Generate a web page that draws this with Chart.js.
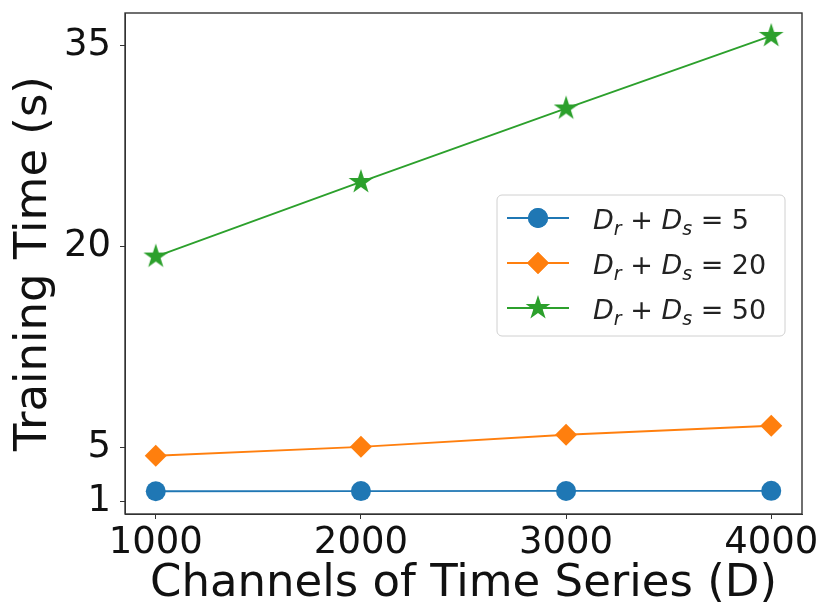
<!DOCTYPE html>
<html>
<head>
<meta charset="utf-8">
<script src="https://cdn.jsdelivr.net/npm/chart.js@4.4.0/dist/chart.umd.min.js"></script>
<style>
  html, body { margin: 0; padding: 0; background: #fff; }
  #wrap { width: 820px; height: 607px; }
</style>
</head>
<body>
<div id="wrap"><canvas id="chart" width="820" height="607"></canvas></div>
<script>
// Data
const channels = [1000, 2000, 3000, 4000]
const timeSum5 = [1.73, 1.74, 1.75, 1.76]
const timeSum20 = [4.38, 5.05, 5.95, 6.62]
const timeSum50 = [19.26, 24.83, 30.32, 35.74]
const sumLabels = ["5", "20", "50"]
const xTicks = [1000, 2000, 3000, 4000]
const yTicks = [1, 5, 20, 35]

const FONT = "'DejaVu Sans', sans-serif"
const BLUE = "#1f77b4"
const ORANGE = "#ff7f0e"
const GREEN = "#2ca02c"

// Filled five point star, used as an image point style
function makeStar(color, r) {
  const c = document.createElement("canvas")
  const s = Math.ceil(r * 2 + 2)
  c.width = s
  c.height = s
  const g = c.getContext("2d")
  g.beginPath()
  for (let i = 0; i < 10; i++) {
    const rad = i % 2 === 0 ? r : r * 0.382
    const a = -Math.PI / 2 + (i * Math.PI) / 5
    g.lineTo(s / 2 + rad * Math.cos(a), s / 2 + rad * Math.sin(a))
  }
  g.closePath()
  g.fillStyle = color
  g.fill()
  return c
}

const starImg = makeStar(GREEN, 13)

function toPoints(ys) {
  return channels.map((x, i) => ({ x: x, y: ys[i] }))
}

const datasets = [
  { values: timeSum5, color: BLUE, style: "circle", radius: 10 },
  { values: timeSum20, color: ORANGE, style: "rectRot", radius: 11 },
  { values: timeSum50, color: GREEN, style: starImg, radius: 13 },
].map((d, i) => ({
  label: "D_r + D_s = " + sumLabels[i],
  data: toPoints(d.values),
  borderColor: d.color,
  backgroundColor: d.color,
  borderWidth: 1.8,
  pointStyle: d.style,
  pointRadius: d.radius,
  pointHoverRadius: d.radius,
  pointBorderWidth: 0,
  pointBackgroundColor: d.color,
  tension: 0,
}))

// Frame around the plot area
const framePlugin = {
  id: "frame",
  afterDatasetsDraw(chart) {
    const { ctx, chartArea: a } = chart
    ctx.save()
    ctx.strokeStyle = "#333"
    ctx.lineWidth = 1.4
    ctx.strokeRect(a.left, a.top, a.right - a.left, a.bottom - a.top)
    ctx.restore()
  },
}

// Legend with subscripts, like matplotlib mathtext
function drawMathLabel(ctx, x, baseline, sum) {
  const big = "italic 27px " + FONT
  const sub = "italic 19px " + FONT
  const reg = "27px " + FONT
  const parts = [
    ["D", big, 0],
    ["r", sub, 6],
    [" + ", reg, 0],
    ["D", big, 0],
    ["s", sub, 6],
    [" = " + sum, reg, 0],
  ]
  let cx = x
  parts.forEach(([t, f, dy]) => {
    ctx.font = f
    ctx.fillText(t, cx, baseline + dy)
    cx += ctx.measureText(t).width
  })
}

const legendPlugin = {
  id: "mathLegend",
  afterDraw(chart) {
    const { ctx, chartArea: a } = chart
    const w = 288
    const h = 141
    const bx = a.right - 17 - w
    const by = a.top + 182
    ctx.save()
    ctx.beginPath()
    ctx.roundRect(bx, by, w, h, 5)
    ctx.fillStyle = "rgba(255,255,255,0.85)"
    ctx.fill()
    ctx.strokeStyle = "#d0d0d0"
    ctx.lineWidth = 1
    ctx.stroke()

    chart.data.datasets.forEach((ds, i) => {
      const ry = by + 23 + i * 45
      ctx.strokeStyle = ds.borderColor
      ctx.lineWidth = 1.8
      ctx.beginPath()
      ctx.moveTo(bx + 10, ry)
      ctx.lineTo(bx + 72, ry)
      ctx.stroke()
      ctx.fillStyle = ds.backgroundColor
      Chart.helpers.drawPoint(
        ctx,
        { pointStyle: ds.pointStyle, radius: ds.pointRadius, rotation: 0, borderWidth: 0 },
        bx + 41,
        ry,
      )
      ctx.fill()
      ctx.fillStyle = "#222"
      ctx.textAlign = "left"
      ctx.textBaseline = "alphabetic"
      drawMathLabel(ctx, bx + 96, ry + 11, sumLabels[i])
    })
    ctx.restore()
  },
}

function zeroPadding(scale) {
  scale.paddingLeft = 0
  scale.paddingRight = 0
  scale.paddingTop = 0
  scale.paddingBottom = 0
}

new Chart(document.getElementById("chart"), {
  type: "line",
  data: { datasets: datasets },
  options: {
    responsive: false,
    devicePixelRatio: 1,
    animation: false,
    layout: { padding: { top: 10, right: 18, left: 0, bottom: 0 } },
    plugins: {
      legend: { display: false },
      tooltip: { enabled: false },
    },
    scales: {
      x: {
        type: "linear",
        min: 850,
        max: 4150,
        afterBuildTicks: (scale) => {
          scale.ticks = xTicks.map((v) => ({ value: v }))
        },
        afterFit: (scale) => {
          scale.height = 93
          zeroPadding(scale)
        },
        grid: {
          drawOnChartArea: false,
          drawTicks: true,
          tickLength: 5,
          tickColor: "#333",
        },
        border: { display: true, color: "#333" },
        ticks: {
          color: "#111",
          font: { family: FONT, size: 37 },
          padding: 2,
          maxRotation: 0,
          callback: (v) => String(v),
        },
        title: {
          display: true,
          text: "Channels of Time Series (D)",
          color: "#111",
          font: { family: FONT, size: 45, lineHeight: 1 },
          padding: { top: 0, bottom: 0 },
        },
      },
      y: {
        type: "linear",
        min: 0.03,
        max: 37.45,
        afterBuildTicks: (scale) => {
          scale.ticks = yTicks.map((v) => ({ value: v }))
        },
        afterFit: (scale) => {
          scale.width = 125
          zeroPadding(scale)
        },
        grid: {
          drawOnChartArea: false,
          drawTicks: true,
          tickLength: 5,
          tickColor: "#333",
        },
        border: { display: true, color: "#333" },
        ticks: {
          color: "#111",
          font: { family: FONT, size: 37 },
          padding: 9,
          callback: (v) => String(v),
        },
        title: {
          display: true,
          text: "Training Time (s)",
          color: "#111",
          font: { family: FONT, size: 45, lineHeight: 1 },
          padding: { top: 12, bottom: 0 },
        },
      },
    },
  },
  plugins: [framePlugin, legendPlugin],
})
</script>
</body>
</html>
